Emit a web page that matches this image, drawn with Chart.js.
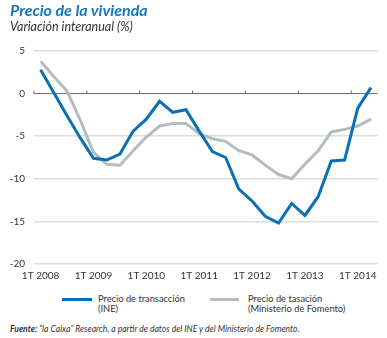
<!DOCTYPE html>
<html>
<head>
<meta charset="utf-8">
<script src="https://cdn.jsdelivr.net/npm/chart.js@4"></script>
<style>
  body { margin: 0; background: #fff; font-family: Lato, "Noto Sans", sans-serif; }
  #wrap { position: relative; width: 387px; height: 338px; overflow: hidden; }
  #chart { position: absolute; left: 0; top: 0; }
  .t { position: absolute; white-space: nowrap; }
  #title { left: 10px; top: 1px; font-size: 16px; line-height: 18px; font-weight: bold; font-style: italic; color: #1576bc; }
  #sub { left: 10px; top: 20px; font-size: 12.5px; line-height: 14px; font-style: italic; color: #333; }
  .sw { position: absolute; height: 3px; width: 30px; }
  .lg { font-size: 9.3px; line-height: 10.5px; color: #333; }
  #foot { left: 10px; top: 323px; font-size: 8.6px; line-height: 12px; font-style: italic; color: #333; }
</style>
</head>
<body>
<div id="wrap">
  <canvas id="chart" width="387" height="290"></canvas>
  <div id="title" class="t">Precio de la vivienda</div>
  <div id="sub" class="t">Variación interanual (%)</div>
  <div class="sw" style="left:62px; top:297.5px; background:#0b6fb8;"></div>
  <div class="t lg" style="left:98px; top:293.5px;">Precio de transacción<br>(INE)</div>
  <div class="sw" style="left:210px; top:297.5px; width:29px; background:#b3bcc0;"></div>
  <div class="t lg" style="left:248px; top:293.5px;">Precio de tasación<br>(Ministerio de Fomento)</div>
  <div id="foot" class="t"><b>Fuente:</b> “la Caixa” Research, a partir de datos del INE y del Ministerio de Fomento.</div>
</div>
<script>
// Quarters 1T 2008 .. 2T 2014
const quarters = [
  '1T 2008', '2T 2008', '3T 2008', '4T 2008',
  '1T 2009', '2T 2009', '3T 2009', '4T 2009',
  '1T 2010', '2T 2010', '3T 2010', '4T 2010',
  '1T 2011', '2T 2011', '3T 2011', '4T 2011',
  '1T 2012', '2T 2012', '3T 2012', '4T 2012',
  '1T 2013', '2T 2013', '3T 2013', '4T 2013',
  '1T 2014', '2T 2014'
];

// Precio de transacción (INE)
const transaccion = [
  2.8, 0.1, -2.6, -5.2,
  -7.6, -7.8, -7.1, -4.4,
  -3.0, -0.9, -2.2, -1.9,
  -4.4, -6.8, -7.5, -11.2,
  -12.6, -14.4, -15.2, -12.9,
  -14.3, -12.1, -7.9, -7.8,
  -1.7, 0.7
];

// Precio de tasación (Ministerio de Fomento)
const tasacion = [
  3.8, 2.0, 0.3, -3.1,
  -6.9, -8.3, -8.4, -6.7,
  -5.1, -3.8, -3.5, -3.5,
  -4.7, -5.3, -5.6, -6.7,
  -7.2, -8.4, -9.5, -10.0,
  -8.3, -6.7, -4.5, -4.2,
  -3.8, -3.0
];

const yTicks = [5, 0, -5, -10, -15, -20];

// zero line with small year ticks
const zeroLine = {
  id: 'zeroLine',
  beforeDatasetsDraw(chart) {
    const { ctx, chartArea, scales } = chart;
    const x = scales.x, y0 = scales.y.getPixelForValue(0);
    const half = (x.getPixelForValue(1) - x.getPixelForValue(0)) / 2;
    ctx.save();
    ctx.strokeStyle = '#666';
    ctx.lineWidth = 1;
    ctx.beginPath();
    ctx.moveTo(chartArea.left, y0);
    ctx.lineTo(chartArea.right, y0);
    quarters.forEach((q, i) => {
      if (q.startsWith('1T')) {
        const px = x.getPixelForValue(i) - half;
        ctx.moveTo(px, y0 - 3);
        ctx.lineTo(px, y0);
      }
    });
    ctx.stroke();
    ctx.restore();
  }
};

new Chart(document.getElementById('chart'), {
  type: 'line',
  data: {
    labels: quarters,
    datasets: [
      { label: 'Precio de transacción (INE)', data: transaccion, borderColor: '#0b6fb8', borderWidth: 3, pointRadius: 0, tension: 0 },
      { label: 'Precio de tasación (Ministerio de Fomento)', data: tasacion, borderColor: '#b3bcc0', borderWidth: 3, pointRadius: 0, tension: 0 }
    ]
  },
  options: {
    responsive: false,
    animation: false,
    layout: { padding: { top: 51, right: 9.4, left: 0, bottom: 0 } },
    plugins: { legend: { display: false }, tooltip: { enabled: false } },
    scales: {
      x: {
        type: 'category',
        offset: true,
        grid: { display: false, drawTicks: false },
        border: { display: false },
        ticks: {
          autoSkip: false, maxRotation: 0, padding: 6,
          color: '#333', font: { family: 'Lato', size: 10 },
          callback: (v, i) => quarters[i].startsWith('1T') ? quarters[i] : ''
        },
        afterFit: s => { s.height = 26; }
      },
      y: {
        min: -20, max: 5,
        afterBuildTicks: s => { s.ticks = yTicks.map(v => ({ value: v })); },
        grid: {
          drawTicks: false, lineWidth: 1.5,
          color: c => c.tick && c.tick.value === 0 ? 'rgba(0,0,0,0)' : '#dcdcdc'
        },
        border: { display: false },
        ticks: { padding: 9, color: '#333', font: { family: 'Lato', size: 10 } },
        afterFit: s => { s.width = 34; }
      }
    }
  },
  plugins: [zeroLine]
});
</script>
</body>
</html>
